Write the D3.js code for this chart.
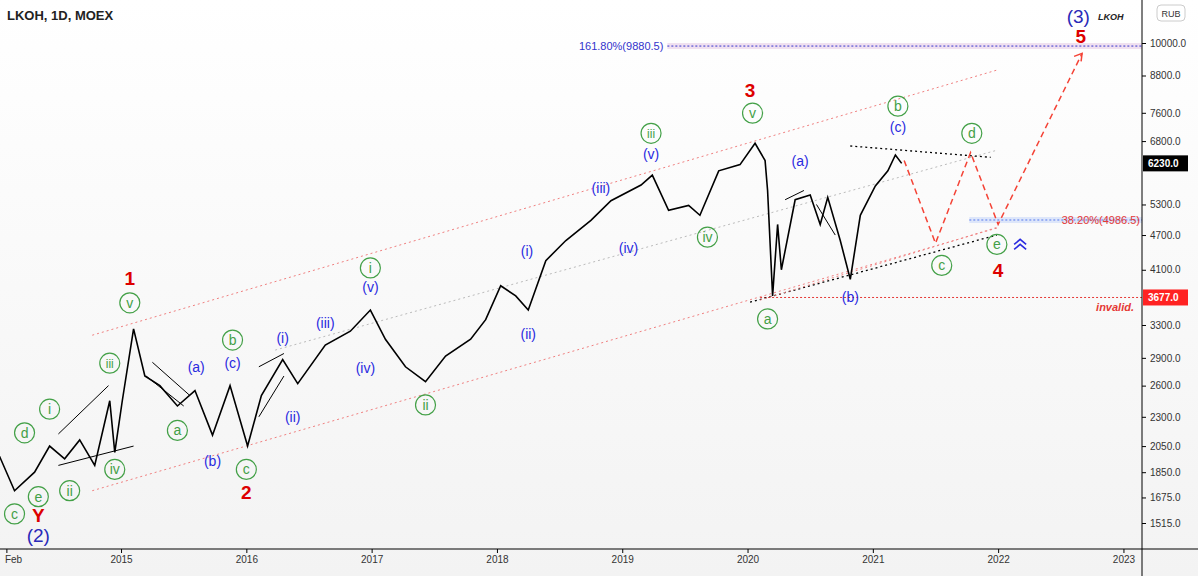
<!DOCTYPE html><html><head><meta charset="utf-8">
<script src="https://cdn.jsdelivr.net/npm/d3@7"></script>
<style>body{margin:0;background:#fff}svg{font-family:"Liberation Sans",Arial,sans-serif}</style></head><body>
<svg id="c" width="1198" height="576"></svg>
<script>
const priceYears=[2014.03,2014.15,2014.31,2014.43,2014.55,2014.67,2014.79,2014.91,2014.95,2015.01,2015.1,2015.19,2015.31,2015.45,2015.59,2015.73,2015.87,2016.01,2016.12,2016.29,2016.41,2016.63,2016.83,2016.99,2017.11,2017.27,2017.43,2017.59,2017.79,2017.91,2018.03,2018.15,2018.25,2018.39,2018.55,2018.75,2018.91,2019.15,2019.24,2019.37,2019.53,2019.62,2019.77,2019.94,2020.06,2020.14,2020.16,2020.2,2020.24,2020.27,2020.38,2020.5,2020.58,2020.64,2020.74,2020.82,2020.9,2021.02,2021.12,2021.18,2021.23];
const priceValues=[1970,1720,1850,2050,1950,2100,1900,2450,2000,2450,3250,2700,2600,2400,2550,2140,2600,2050,2500,2880,2620,3050,3220,3500,3120,2800,2640,2920,3120,3370,3850,3700,3500,4250,4600,4980,5380,5720,5950,5180,5280,5080,6050,6200,6740,6300,5600,3700,4900,4100,5400,5500,4900,5450,4600,3950,5080,5700,6050,6440,6230];
const yTicks=[10000,8800,7600,6800,5300,4700,4100,3300,2900,2600,2300,2050,1850,1675,1515];
const xTickYears=[2014.085,2015,2016,2017,2018,2019,2020,2021,2022,2023];
const xTickLabels=["Feb","2015","2016","2017","2018","2019","2020","2021","2022","2023"];
const greenLabels=[["c",2014.15,1570],["e",2014.34,1680],["d",2014.23,2160],["i",2014.43,2370],["ii",2014.59,1720],["iii",2014.91,2840],["iv",2014.95,1870],["v",2015.07,3600],["a",2015.45,2180],["b",2015.89,3110],["c",2016.0,1870],["i",2016.99,4130],["ii",2017.43,2410],["iii",2019.23,7010],["iv",2019.68,4660],["v",2020.04,7590],["a",2020.16,3380],["b",2021.2,7800],["d",2021.79,7010],["c",2021.55,4170],["e",2021.99,4530]];
const blueLabels=[["(a)",2015.6,2800],["(b)",2015.73,1930],["(c)",2015.89,2840],["(i)",2016.29,3130],["(ii)",2016.37,2300],["(iii)",2016.63,3330],["(iv)",2016.95,2790],["(v)",2016.99,3830],["(i)",2018.24,4410],["(ii)",2018.25,3180],["(iii)",2018.83,5650],["(iv)",2019.05,4460],["(v)",2019.23,6460],["(a)",2020.42,6280],["(b)",2020.82,3680],["(c)",2021.2,7180]];
const bigBlueLabels=[["(2)",2014.34,1445],["(3)",2022.64,11100]];
const redLabels=[["1",2015.07,3970],["2",2016.0,1710],["3",2020.02,8310],["4",2022.0,4100],["5",2022.66,10280],["Y",2014.34,1565]];
const channelLines=[[[2014.77,3170],[2021.99,8990],"#f08080"],[[2014.77,1720],[2021.99,4830],"#f08080"],[[2016.23,2990],[2021.99,6560],"#bbb"],[[2020.02,3610],[2021.99,4700],"#000"],[[2020.82,6670],[2021.94,6380],"#000"],[[2020.1,3640],[2022.0,4850],"#f08080"]];
const triangleLines=[[[2014.5,1900],[2015.1,2050]],[[2014.5,2150],[2014.9,2600]],[[2015.2,2700],[2015.5,2400]],[[2015.25,2850],[2015.55,2500]],[[2016.1,2300],[2016.3,2700]],[[2016.1,2800],[2016.3,2950]],[[2020.3,5400],[2020.45,5600]],[[2020.55,5300],[2020.7,4700]]];
const projYears=[2021.25,2021.5,2021.78,2022.0,2022.67];
const projValues=[6300,4550,6500,4900,9600];
const fibLevels=[["161.80%(9880.5)",9880.5,2019.36,"#3333cc","#f0e0f0"],["38.20%(4986.5)",4986.5,2021.77,"#e53935","#dde6fa"]];
const invalidLevel=3677, lastPrice=6230;

const svg=d3.select("#c"), W=1142, H=549;
const x=d3.scaleLinear().domain([2014.034,2014.034+W/125.3]).range([0,W]);
const y=d3.scaleLog().domain([10000,1515]).range([43,523]);
const bg=svg.append("defs").append("linearGradient").attr("id","g").attr("x1",0).attr("y1",0).attr("x2",0).attr("y2",1);
bg.append("stop").attr("offset",0).attr("stop-color","#fff");bg.append("stop").attr("offset",1).attr("stop-color","#f3f3f3");
svg.append("rect").attr("width",1198).attr("height",576).attr("fill","url(#g)");
fibLevels.forEach((f,i)=>{
 svg.append("rect").attr("x",x(f[2])).attr("y",y(f[1])-3).attr("width",W-x(f[2])).attr("height",6).attr("fill",f[4]);
 svg.append("line").attr("x1",x(f[2])).attr("x2",W).attr("y1",y(f[1])).attr("y2",y(f[1])).attr("stroke",i?"#5577ee":f[3]).attr("stroke-dasharray","2,2");
 svg.append("text").attr("x",i?W-2:x(f[2])-4).attr("y",y(f[1])+4).attr("text-anchor","end").attr("font-size",11).attr("fill",f[3]).text(f[0]);
});
svg.append("line").attr("x1",x(2020.1)).attr("x2",W).attr("y1",y(invalidLevel)).attr("y2",y(invalidLevel)).attr("stroke","#e53935").attr("stroke-dasharray","2,2");
svg.append("text").attr("x",W-8).attr("y",y(invalidLevel)+14).attr("text-anchor","end").attr("font-size",11).attr("font-style","italic").attr("font-weight","bold").attr("fill","#e53935").text("invalid.");
channelLines.forEach(l=>svg.append("line").attr("x1",x(l[0][0])).attr("y1",y(l[0][1])).attr("x2",x(l[1][0])).attr("y2",y(l[1][1])).attr("stroke",l[2]).attr("stroke-width",l[2]=="#000"?1.3:1).attr("stroke-dasharray","2,3"));
triangleLines.forEach(l=>svg.append("line").attr("x1",x(l[0][0])).attr("y1",y(l[0][1])).attr("x2",x(l[1][0])).attr("y2",y(l[1][1])).attr("stroke","#000").attr("stroke-width",1));
const pts=priceYears.map((t,i)=>[t,priceValues[i]]);
svg.append("path").datum(pts).attr("fill","none").attr("stroke","#000").attr("stroke-width",1.6).attr("d",d3.line().x(d=>x(d[0])).y(d=>y(d[1])));
svg.append("path").datum(projYears.map((t,i)=>[t,projValues[i]])).attr("fill","none").attr("stroke","#f44336").attr("stroke-width",1.5).attr("stroke-dasharray","6,4").attr("d",d3.line().x(d=>x(d[0])).y(d=>y(d[1])));
const e=[projYears[4],projValues[4]];
svg.append("path").attr("d",`M${x(e[0])-8},${y(e[1])+3}L${x(e[0])},${y(e[1])}L${x(e[0])-1},${y(e[1])+8}`).attr("fill","none").attr("stroke","#f44336").attr("stroke-width",1.5);
greenLabels.forEach(l=>{const g=svg.append("g").attr("transform",`translate(${x(l[1])},${y(l[2])})`);
 g.append("circle").attr("r",10).attr("fill","none").attr("stroke","#43a047").attr("stroke-width",1.2);
 g.append("text").attr("text-anchor","middle").attr("dy",5).attr("font-size",l[0].length>2?12:14).attr("fill","#43a047").text(l[0]);});
blueLabels.forEach(l=>svg.append("text").attr("x",x(l[1])).attr("y",y(l[2])+5).attr("text-anchor","middle").attr("font-size",14).attr("fill","#2a2ae0").text(l[0]));
bigBlueLabels.forEach(l=>svg.append("text").attr("x",x(l[1])).attr("y",y(l[2])+7).attr("text-anchor","middle").attr("font-size",19).attr("fill","#2a2ab8").text(l[0]));
redLabels.forEach(l=>svg.append("text").attr("x",x(l[1])).attr("y",y(l[2])+7).attr("text-anchor","middle").attr("font-size",19).attr("font-weight","bold").attr("fill","#d00").text(l[0]));
const cx=x(2022.0)+22, cy=y(4530);
svg.append("path").attr("d",`M${cx-6},${cy}l6,-5l6,5M${cx-6},${cy+5}l6,-5l6,5`).attr("fill","none").attr("stroke","#2a2ae0").attr("stroke-width",1.6);
const ya=svg.append("g").attr("transform",`translate(${W},0)`).call(d3.axisRight(y).tickValues(yTicks).tickFormat(d3.format(".1f")).tickSize(4));
ya.select(".domain").attr("d",`M0,0V576`).attr("stroke","#000");
ya.selectAll("text").attr("font-size",10).attr("fill","#333").attr("x",8);
const xa=svg.append("g").attr("transform",`translate(0,${H})`).call(d3.axisBottom(x).tickValues(xTickYears).tickFormat((d,i)=>xTickLabels[i]).tickSize(4));
xa.select(".domain").attr("d",`M0,0H1198`).attr("stroke","#000");
xa.selectAll("text").attr("font-size",10).attr("fill","#333");
xa.selectAll(".tick").filter((d,i)=>i==0).select("text").attr("text-anchor","start").attr("x",-2);
[[lastPrice,"#000"],[invalidLevel,"#f22"]].forEach(p=>{svg.append("rect").attr("x",W+1).attr("y",y(p[0])-8).attr("width",45).attr("height",16).attr("fill",p[1]);
 svg.append("text").attr("x",W+6).attr("y",y(p[0])+4).attr("font-size",10).attr("font-weight","bold").attr("fill","#fff").text(d3.format(".1f")(p[0]));});
svg.append("rect").attr("x",1157).attr("y",5).attr("width",28).attr("height",16).attr("rx",4).attr("fill","#fff").attr("stroke","#ccc");
svg.append("text").attr("x",1171).attr("y",17).attr("text-anchor","middle").attr("font-size",9).attr("fill","#333").text("RUB");
svg.append("text").attr("x",7).attr("y",20).attr("font-size",13).attr("font-weight","bold").attr("fill","#222").text("LKOH, 1D, MOEX");
svg.append("text").attr("x",1098).attr("y",20).attr("font-size",9).attr("font-style","italic").attr("font-weight","bold").attr("fill","#222").text("LKOH");
</script></body></html>
